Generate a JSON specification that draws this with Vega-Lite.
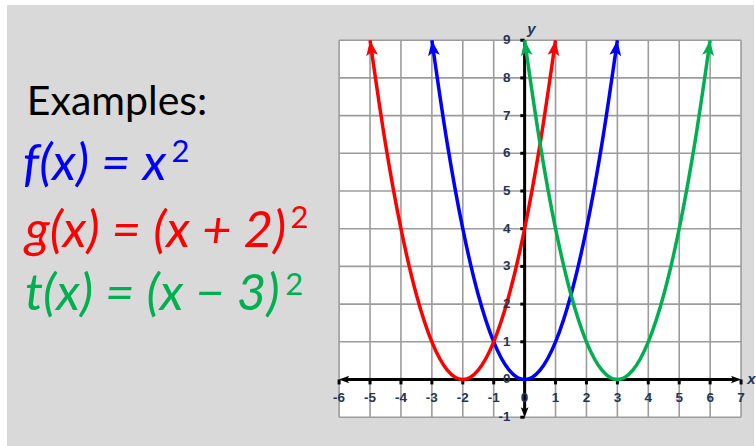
{
  "$schema": "https://vega.github.io/schema/vega-lite/v6.json",
  "width": 756,
  "height": 446,
  "autosize": {"type": "fit", "contains": "padding"},
  "padding": {"left": 7, "top": 5, "right": 0, "bottom": 0},
  "background": "#ffffff",
  "config": {"view": {"fill": "#d9d9d9", "stroke": null}},
  "datasets": {
    "xs": [
      {"x": -6}, {"x": -5}, {"x": -4}, {"x": -3}, {"x": -2}, {"x": -1}, {"x": 0},
      {"x": 1}, {"x": 2}, {"x": 3}, {"x": 4}, {"x": 5}, {"x": 6}, {"x": 7}
    ],
    "ys": [
      {"y": -1}, {"y": 0}, {"y": 1}, {"y": 2}, {"y": 3}, {"y": 4},
      {"y": 5}, {"y": 6}, {"y": 7}, {"y": 8}, {"y": 9}
    ],
    "curves": [
      {"fn": "f", "x": -3, "y": 9}, {"fn": "f", "x": -2.5, "y": 6.25}, {"fn": "f", "x": -2, "y": 4},
      {"fn": "f", "x": -1.5, "y": 2.25}, {"fn": "f", "x": -1, "y": 1}, {"fn": "f", "x": -0.5, "y": 0.25},
      {"fn": "f", "x": 0, "y": 0}, {"fn": "f", "x": 0.5, "y": 0.25}, {"fn": "f", "x": 1, "y": 1},
      {"fn": "f", "x": 1.5, "y": 2.25}, {"fn": "f", "x": 2, "y": 4}, {"fn": "f", "x": 2.5, "y": 6.25},
      {"fn": "f", "x": 3, "y": 9},
      {"fn": "g", "x": -5, "y": 9}, {"fn": "g", "x": -4.5, "y": 6.25}, {"fn": "g", "x": -4, "y": 4},
      {"fn": "g", "x": -3.5, "y": 2.25}, {"fn": "g", "x": -3, "y": 1}, {"fn": "g", "x": -2.5, "y": 0.25},
      {"fn": "g", "x": -2, "y": 0}, {"fn": "g", "x": -1.5, "y": 0.25}, {"fn": "g", "x": -1, "y": 1},
      {"fn": "g", "x": -0.5, "y": 2.25}, {"fn": "g", "x": 0, "y": 4}, {"fn": "g", "x": 0.5, "y": 6.25},
      {"fn": "g", "x": 1, "y": 9},
      {"fn": "t", "x": 0, "y": 9}, {"fn": "t", "x": 0.5, "y": 6.25}, {"fn": "t", "x": 1, "y": 4},
      {"fn": "t", "x": 1.5, "y": 2.25}, {"fn": "t", "x": 2, "y": 1}, {"fn": "t", "x": 2.5, "y": 0.25},
      {"fn": "t", "x": 3, "y": 0}, {"fn": "t", "x": 3.5, "y": 0.25}, {"fn": "t", "x": 4, "y": 1},
      {"fn": "t", "x": 4.5, "y": 2.25}, {"fn": "t", "x": 5, "y": 4}, {"fn": "t", "x": 5.5, "y": 6.25},
      {"fn": "t", "x": 6, "y": 9}
    ],
    "notes": [
      {"role": "heading", "fn": "none", "text": "Examples:", "x": -16.1, "y": 7.02},
      {"role": "formula", "fn": "f", "text": "f(x) = x", "x": -16.23, "y": 5.29},
      {"role": "formula", "fn": "g", "text": "g(x) = (x + 2)", "x": -16.16, "y": 3.52},
      {"role": "formula", "fn": "t", "text": "t(x) = (x − 3)", "x": -16.16, "y": 1.84},
      {"role": "power", "fn": "f", "text": "2", "x": -11.42, "y": 5.77},
      {"role": "power", "fn": "g", "text": "2", "x": -7.57, "y": 4.02},
      {"role": "power", "fn": "t", "text": "2", "x": -7.74, "y": 2.24}
    ]
  },
  "layer": [
    {
      "description": "white plotting grid area",
      "data": {"values": [{}]},
      "mark": {"type": "rect", "fill": "#ffffff"},
      "encoding": {
        "x": {"datum": -6, "type": "quantitative", "axis": null,
              "scale": {"domain": [-16.742, 7.419], "nice": false, "zero": false}},
        "x2": {"datum": 7},
        "y": {"datum": -1, "type": "quantitative", "axis": null,
              "scale": {"domain": [-1.764, 9.934], "nice": false, "zero": false}},
        "y2": {"datum": 9}
      }
    },
    {
      "description": "vertical grid lines",
      "data": {"name": "xs"},
      "mark": {"type": "rule", "color": "#9c9c9c", "strokeWidth": 1.6},
      "encoding": {
        "x": {"field": "x", "type": "quantitative", "axis": null},
        "y": {"datum": -1, "type": "quantitative", "axis": null},
        "y2": {"datum": 9}
      }
    },
    {
      "description": "horizontal grid lines",
      "data": {"name": "ys"},
      "mark": {"type": "rule", "color": "#9c9c9c", "strokeWidth": 1.6},
      "encoding": {
        "y": {"field": "y", "type": "quantitative", "axis": null},
        "x": {"datum": -6, "type": "quantitative", "axis": null},
        "x2": {"datum": 7}
      }
    },
    {
      "description": "x axis line",
      "data": {"values": [{}]},
      "mark": {"type": "rule", "color": "#000000", "strokeWidth": 3},
      "encoding": {
        "x": {"datum": -5.8, "type": "quantitative", "axis": null},
        "x2": {"datum": 6.8},
        "y": {"datum": 0, "type": "quantitative", "axis": null}
      }
    },
    {
      "description": "y axis line",
      "data": {"values": [{}]},
      "mark": {"type": "rule", "color": "#000000", "strokeWidth": 3},
      "encoding": {
        "x": {"datum": 0, "type": "quantitative", "axis": null},
        "y": {"datum": -0.8, "type": "quantitative", "axis": null},
        "y2": {"datum": 9}
      }
    },
    {
      "description": "x axis tick marks",
      "data": {"name": "xs"},
      "mark": {"type": "rule", "color": "#000000", "strokeWidth": 3},
      "encoding": {
        "x": {"field": "x", "type": "quantitative", "axis": null},
        "y": {"datum": 0, "type": "quantitative", "axis": null},
        "y2": {"datum": -0.13}
      }
    },
    {
      "description": "y axis tick marks",
      "data": {"name": "ys"},
      "mark": {"type": "rule", "color": "#000000", "strokeWidth": 3},
      "encoding": {
        "y": {"field": "y", "type": "quantitative", "axis": null},
        "x": {"datum": 0, "type": "quantitative", "axis": null},
        "x2": {"datum": -0.14}
      }
    },
    {
      "description": "x axis arrow, left end",
      "data": {"values": [{}]},
      "mark": {"type": "point", "shape": "M0,0L-1,2.6L0,2L1,2.6Z", "size": 60, "angle": -90,
               "filled": true, "color": "#000000", "opacity": 1},
      "encoding": {
        "x": {"datum": -6, "type": "quantitative", "axis": null},
        "y": {"datum": 0, "type": "quantitative", "axis": null}
      }
    },
    {
      "description": "x axis arrow, right end",
      "data": {"values": [{}]},
      "mark": {"type": "point", "shape": "M0,0L-1,2.6L0,2L1,2.6Z", "size": 60, "angle": 90,
               "filled": true, "color": "#000000", "opacity": 1},
      "encoding": {
        "x": {"datum": 7, "type": "quantitative", "axis": null},
        "y": {"datum": 0, "type": "quantitative", "axis": null}
      }
    },
    {
      "description": "y axis arrow, bottom end",
      "data": {"values": [{}]},
      "mark": {"type": "point", "shape": "M0,0L-1,2.6L0,2L1,2.6Z", "size": 60, "angle": 180,
               "filled": true, "color": "#000000", "opacity": 1},
      "encoding": {
        "x": {"datum": 0, "type": "quantitative", "axis": null},
        "y": {"datum": -1, "type": "quantitative", "axis": null}
      }
    },
    {
      "description": "parabolas",
      "data": {"name": "curves"},
      "mark": {"type": "line", "strokeWidth": 3.5, "interpolate": "monotone", "strokeCap": "butt"},
      "encoding": {
        "x": {"field": "x", "type": "quantitative", "axis": null},
        "y": {"field": "y", "type": "quantitative", "axis": null},
        "color": {"field": "fn", "type": "nominal", "legend": null,
                  "scale": {"domain": ["f", "g", "t"], "range": ["#0000ff", "#ff0000", "#00b050"]}},
        "order": {"field": "x", "type": "quantitative"}
      }
    },
    {
      "description": "arrowheads on the left branch of each parabola",
      "data": {"name": "curves"},
      "transform": [
        {"joinaggregate": [{"op": "min", "field": "x", "as": "xmin"}], "groupby": ["fn"]},
        {"filter": "datum.x === datum.xmin"}
      ],
      "mark": {"type": "point", "shape": "M0,0L-1,2.6L0,2L1,2.6Z", "size": 140, "angle": -7.8,
               "filled": true, "opacity": 1},
      "encoding": {
        "x": {"field": "x", "type": "quantitative", "axis": null},
        "y": {"field": "y", "type": "quantitative", "axis": null},
        "color": {"field": "fn", "type": "nominal", "legend": null}
      }
    },
    {
      "description": "arrowheads on the right branch of each parabola",
      "data": {"name": "curves"},
      "transform": [
        {"joinaggregate": [{"op": "max", "field": "x", "as": "xmax"}], "groupby": ["fn"]},
        {"filter": "datum.x === datum.xmax"}
      ],
      "mark": {"type": "point", "shape": "M0,0L-1,2.6L0,2L1,2.6Z", "size": 140, "angle": 7.8,
               "filled": true, "opacity": 1},
      "encoding": {
        "x": {"field": "x", "type": "quantitative", "axis": null},
        "y": {"field": "y", "type": "quantitative", "axis": null},
        "color": {"field": "fn", "type": "nominal", "legend": null}
      }
    },
    {
      "description": "x axis labels",
      "data": {"name": "xs"},
      "mark": {"type": "text", "font": "Liberation Sans", "fontSize": 13.5, "fontWeight": "bold",
               "color": "#253456", "align": "center", "baseline": "middle", "dy": 19},
      "encoding": {
        "x": {"field": "x", "type": "quantitative", "axis": null},
        "y": {"datum": 0, "type": "quantitative", "axis": null},
        "text": {"field": "x", "type": "nominal"}
      }
    },
    {
      "description": "y axis labels",
      "data": {"name": "ys"},
      "mark": {"type": "text", "font": "Liberation Sans", "fontSize": 13.5, "fontWeight": "bold",
               "color": "#253456", "align": "right", "baseline": "middle", "dx": -14},
      "encoding": {
        "y": {"field": "y", "type": "quantitative", "axis": null},
        "x": {"datum": 0, "type": "quantitative", "axis": null},
        "text": {"field": "y", "type": "nominal"}
      }
    },
    {
      "description": "axis name y",
      "data": {"values": [{"name": "y"}]},
      "mark": {"type": "text", "font": "Liberation Sans", "fontSize": 15, "fontWeight": "bold",
               "fontStyle": "italic", "color": "#253456", "align": "center", "baseline": "middle"},
      "encoding": {
        "x": {"datum": 0.22, "type": "quantitative", "axis": null},
        "y": {"datum": 9.3, "type": "quantitative", "axis": null},
        "text": {"field": "name"}
      }
    },
    {
      "description": "axis name x",
      "data": {"values": [{"name": "x"}]},
      "mark": {"type": "text", "font": "Liberation Sans", "fontSize": 15, "fontWeight": "bold",
               "fontStyle": "italic", "color": "#253456", "align": "left", "baseline": "middle"},
      "encoding": {
        "x": {"datum": 7.2, "type": "quantitative", "axis": null},
        "y": {"datum": 0, "type": "quantitative", "axis": null},
        "text": {"field": "name"}
      }
    },
    {
      "description": "heading",
      "data": {"name": "notes"},
      "transform": [{"filter": "datum.role === 'heading'"}],
      "mark": {"type": "text", "font": "Lato", "fontSize": 41, "color": "#000000",
               "align": "left", "baseline": "alphabetic"},
      "encoding": {
        "x": {"field": "x", "type": "quantitative", "axis": null},
        "y": {"field": "y", "type": "quantitative", "axis": null},
        "text": {"field": "text"}
      }
    },
    {
      "description": "function definitions",
      "data": {"name": "notes"},
      "transform": [{"filter": "datum.role === 'formula'"}],
      "mark": {"type": "text", "font": "Lato", "fontSize": 51, "fontStyle": "italic",
               "align": "left", "baseline": "alphabetic"},
      "encoding": {
        "x": {"field": "x", "type": "quantitative", "axis": null},
        "y": {"field": "y", "type": "quantitative", "axis": null},
        "text": {"field": "text"},
        "color": {"field": "fn", "type": "nominal", "legend": null}
      }
    },
    {
      "description": "exponents",
      "data": {"name": "notes"},
      "transform": [{"filter": "datum.role === 'power'"}],
      "mark": {"type": "text", "font": "Lato", "fontSize": 31,
               "align": "left", "baseline": "alphabetic"},
      "encoding": {
        "x": {"field": "x", "type": "quantitative", "axis": null},
        "y": {"field": "y", "type": "quantitative", "axis": null},
        "text": {"field": "text"},
        "color": {"field": "fn", "type": "nominal", "legend": null}
      }
    }
  ]
}
